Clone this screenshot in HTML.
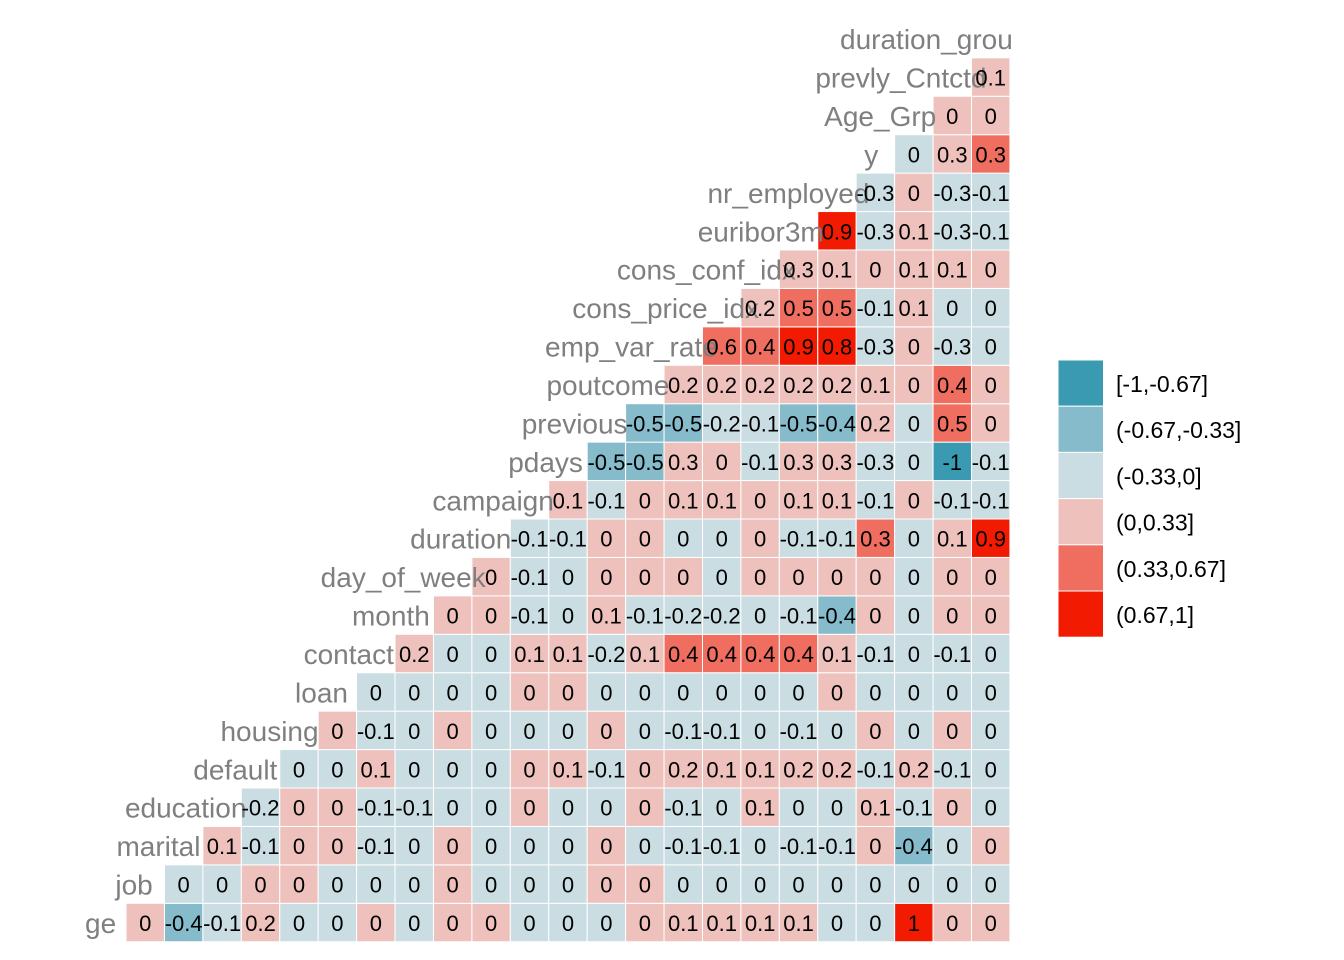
<!DOCTYPE html>
<html><head><meta charset="utf-8">
<style>
html,body{margin:0;padding:0;background:#fff;}
svg{display:block;}
</style></head>
<body>
<svg id="chart" width="1344" height="960" viewBox="0 0 1344 960" xmlns="http://www.w3.org/2000/svg">
<defs><clipPath id="panel"><rect x="86" y="0" width="927" height="960"/></clipPath></defs>
<g id="cells"></g>
<g id="labels" clip-path="url(#panel)"></g>
<g id="legend"></g>
</svg>
<script>
const variables = ["age","job","marital","education","default","housing","loan","contact","month","day_of_week","duration","campaign","pdays","previous","poutcome","emp_var_rate","cons_price_idx","cons_conf_idx","euribor3m","nr_employed","y","Age_Grp","prevly_Cntctd","duration_group"];
const r0 = [0.01,-0.4,-0.1,0.2,-0.01,-0.01,0.01,-0.01,0.01,0.01,-0.01,-0.01,-0.01,0.01,0.1,0.1,0.1,0.1,-0.01,-0.01,1,0.01,0.01];
const r1 = [-0.01,-0.01,0.01,0.01,-0.01,-0.01,-0.01,0.01,-0.01,-0.01,-0.01,0.01,0.01,-0.01,-0.01,-0.01,-0.01,-0.01,-0.01,-0.01,-0.01,-0.01];
const r2 = [0.1,-0.1,0.01,0.01,-0.1,-0.01,0.01,-0.01,-0.01,-0.01,0.01,-0.01,-0.1,-0.1,-0.01,-0.1,-0.1,0.01,-0.4,-0.01,0.01];
const r3 = [-0.2,0.01,0.01,-0.1,-0.1,-0.01,-0.01,0.01,-0.01,-0.01,0.01,-0.1,-0.01,0.1,-0.01,-0.01,0.1,-0.1,0.01,-0.01];
const r4 = [-0.01,-0.01,0.1,-0.01,-0.01,-0.01,0.01,0.1,-0.1,0.01,0.2,0.1,0.1,0.2,0.2,-0.1,0.2,-0.1,-0.01];
const r5 = [0.01,-0.1,-0.01,0.01,-0.01,-0.01,-0.01,0.01,-0.01,-0.1,-0.1,-0.01,-0.1,-0.01,0.01,-0.01,0.01,-0.01];
const r6 = [-0.01,-0.01,-0.01,-0.01,0.01,0.01,-0.01,-0.01,-0.01,-0.01,-0.01,-0.01,0.01,-0.01,-0.01,-0.01,-0.01];
const r7 = [0.2,-0.01,-0.01,0.1,0.1,-0.2,0.1,0.4,0.4,0.4,0.4,0.1,-0.1,-0.01,-0.1,-0.01];
const r8 = [0.01,0.01,-0.1,-0.01,0.1,-0.1,-0.2,-0.2,-0.01,-0.1,-0.4,0.01,-0.01,0.01,0.01];
const r9 = [0.01,-0.1,-0.01,0.01,0.01,0.01,-0.01,0.01,0.01,0.01,0.01,-0.01,0.01,0.01];
const r10 = [-0.1,-0.1,0.01,0.01,-0.01,-0.01,0.01,-0.1,-0.1,0.34,-0.01,0.1,0.9];
const r11 = [0.1,-0.1,0.01,0.1,0.1,0.01,0.1,0.1,-0.1,0.01,-0.1,-0.1];
const r12 = [-0.5,-0.5,0.3,0.01,-0.1,0.3,0.3,-0.3,-0.01,-1,-0.1];
const r13 = [-0.5,-0.5,-0.2,-0.1,-0.5,-0.4,0.2,-0.01,0.5,0.01];
const r14 = [0.2,0.2,0.2,0.2,0.2,0.1,0.01,0.4,0.01];
const r15 = [0.6,0.4,0.9,0.8,-0.3,0.01,-0.3,-0.01];
const r16 = [0.2,0.5,0.5,-0.1,0.1,-0.01,-0.01];
const r17 = [0.3,0.1,0.01,0.1,0.1,0.01];
const r18 = [0.9,-0.3,0.1,-0.3,-0.1];
const r19 = [-0.3,0.01,-0.3,-0.1];
const r20 = [-0.01,0.3,0.34];
const r21 = [0.01,0.01];
const r22 = [0.1];
const rows = [r0,r1,r2,r3,r4,r5,r6,r7,r8,r9,r10,r11,r12,r13,r14,r15,r16,r17,r18,r19,r20,r21,r22];
const legendLabels = ["[-1,-0.67]","(-0.67,-0.33]","(-0.33,0]","(0,0.33]","(0.33,0.67]","(0.67,1]"];
const binEdges = [-0.67,-0.33,0,0.33,0.67,1];
const palette = ["#3A9AB2","#85BBCA","#C9DDE2","#EEC1BC","#F06E60","#F21A00"];

const NS = "http://www.w3.org/2000/svg";
const CELL = 38.43, X0 = 87.6, YB = 903.3;
function xCol(j){ return X0 + j*CELL; }
function yRow(i){ return YB - i*CELL; }
function colorOf(v){ for(let k=0;k<binEdges.length;k++){ if(v<=binEdges[k]) return palette[k]; } return palette[5]; }
function fmt(v){ const r=Math.round(v*10)/10; return String(r===0?0:r); }

const cells = document.getElementById('cells');
rows.forEach((row,i)=>{
  row.forEach((v,k)=>{
    const j = i+1+k;
    const r = document.createElementNS(NS,'rect');
    r.setAttribute('x', xCol(j)); r.setAttribute('y', yRow(i));
    r.setAttribute('width', CELL); r.setAttribute('height', CELL);
    r.setAttribute('fill', colorOf(v)); r.setAttribute('stroke','#fff'); r.setAttribute('stroke-width','1');
    
    
    cells.appendChild(r);
  });
});
const labels = document.getElementById('labels');
variables.forEach((name,i)=>{
  const t = document.createElementNS(NS,'text');
  const cx = xCol(i)+CELL/2;
  t.textContent = name;
  t.setAttribute('y', yRow(i)+CELL/2+1);
  t.setAttribute('dominant-baseline','central');
  t.setAttribute('font-family','"Liberation Sans", sans-serif');
  t.setAttribute('font-size','28');
  t.setAttribute('fill','#7F7F7F');
  
  
  labels.appendChild(t);
  const tw = t.getComputedTextLength();
  t.setAttribute('x', cx - 0.8*tw);
});
rows.forEach((row,i)=>{
  row.forEach((v,k)=>{
    const j = i+1+k;
    const t = document.createElementNS(NS,'text');
    t.textContent = fmt(v);
    t.setAttribute('x', xCol(j)+CELL/2); t.setAttribute('y', yRow(i)+CELL/2+1);
    t.setAttribute('text-anchor','middle'); t.setAttribute('dominant-baseline','central');
    t.setAttribute('font-family','"Liberation Sans", sans-serif'); t.setAttribute('font-size','22');
    t.setAttribute('fill','#000');
    
    
    labels.appendChild(t);
  });
});
const legend = document.getElementById('legend');
legendLabels.forEach((lab,k)=>{
  const r = document.createElementNS(NS,'rect');
  r.setAttribute('x',1058); r.setAttribute('y',360+k*46.2);
  r.setAttribute('width',45.5); r.setAttribute('height',46.2);
  r.setAttribute('fill',palette[k]); r.setAttribute('stroke','#fff'); r.setAttribute('stroke-width','1');
  
  
  legend.appendChild(r);
  const t = document.createElementNS(NS,'text');
  t.textContent = lab;
  t.setAttribute('x',1116); t.setAttribute('y',360+k*46.2+24);
  t.setAttribute('dominant-baseline','central');
  t.setAttribute('font-family','"Liberation Sans", sans-serif'); t.setAttribute('font-size','23');
  t.setAttribute('fill','#000');
  
  
  legend.appendChild(t);
});
</script>
</body></html>
